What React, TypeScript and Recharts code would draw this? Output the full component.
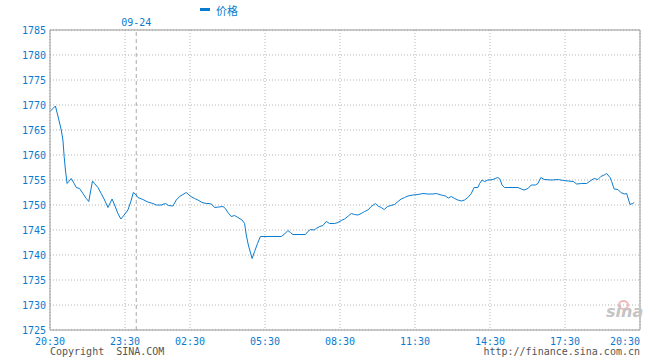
import React from "react";
import {
  LineChart,
  Line,
  XAxis,
  YAxis,
  CartesianGrid,
  ReferenceLine,
} from "recharts";

// time position in minutes from 20:30 (session gap squeezed out, like the source chart)
const xPos = [
  0, 13, 19, 27, 31, 34, 37, 41, 45, 51, 58, 63, 71, 79, 87, 93, 98, 102, 107,
  115, 123, 131, 139, 149, 155, 163, 170, 178, 187, 194, 200, 205, 211, 223,
  235, 247, 255, 267, 277, 285, 295, 303, 311, 319, 327, 338, 347, 355, 365,
  375, 383, 389, 395, 405, 415, 421, 427, 435, 443, 451, 461, 467, 471, 476,
  485, 491, 498, 505, 555, 563, 571, 577, 583, 613, 619, 625, 634, 639, 647,
  655, 663, 671, 683, 691, 699, 707, 716, 723, 731, 739, 747, 755, 763, 771,
  781, 787, 795, 802, 810, 818, 827, 835, 843, 851, 859, 871, 883, 895, 907,
  919, 927, 939, 949, 956, 963, 971, 979, 987, 995, 1003, 1011, 1018, 1027,
  1031, 1037, 1043, 1051, 1063, 1074, 1079, 1085, 1091, 1123, 1131, 1138,
  1147, 1155, 1165, 1171, 1178, 1186, 1204, 1220, 1232, 1244, 1256, 1264,
  1276, 1288, 1298, 1306, 1315, 1322, 1330, 1336, 1344, 1348, 1354, 1363,
  1370, 1378, 1384, 1392, 1398, 1402,
];

const prices = [
  1768.7, 1769.8, 1767.8, 1765, 1763, 1759.7, 1757, 1754.3, 1754.7, 1755.3,
  1754.3, 1753.5, 1753.3, 1752.3, 1751.3, 1750.7, 1753, 1754.8, 1754.3, 1753.5,
  1752.3, 1751, 1749.5, 1751.2, 1750, 1748.3, 1747.2, 1748, 1749, 1750.7,
  1752.5, 1752.2, 1751.5, 1751.1, 1750.6, 1750.3, 1750, 1750, 1750.3, 1749.9,
  1749.8, 1751, 1751.7, 1752.1, 1752.5, 1751.7, 1751.3, 1751, 1750.5, 1750.3,
  1750.3, 1750.1, 1749.5, 1749.6, 1749.7, 1749.3, 1748.5, 1747.7, 1747.9,
  1747.5, 1747, 1746.3, 1744, 1742, 1739.3, 1740.7, 1742.3, 1743.7, 1743.7,
  1744.2, 1744.9, 1744.5, 1744.1, 1744.1, 1744.7, 1745.1, 1745, 1745.3,
  1745.7, 1745.9, 1746.7, 1746.3, 1746.3, 1746.5, 1746.9, 1747.2, 1747.8,
  1748.3, 1748.1, 1748, 1748.3, 1748.7, 1749, 1749.7, 1750.3, 1749.8, 1749.5,
  1749.1, 1749.7, 1749.9, 1750.1, 1750.7, 1751.2, 1751.5, 1751.8, 1752,
  1752.1, 1752.3, 1752.2, 1752.2, 1752.3, 1752, 1751.8, 1751.4, 1751.7,
  1751.3, 1751, 1750.8, 1751, 1751.5, 1752.3, 1753.5, 1753.5, 1754.3, 1755,
  1754.7, 1755, 1755.1, 1755.5, 1755.3, 1754, 1753.5, 1753.5, 1753.2, 1753,
  1753.3, 1754, 1754, 1754.3, 1755.5, 1755.1, 1755, 1755.1, 1754.9, 1754.8,
  1754.7, 1754.2, 1754.3, 1754.3, 1754.9, 1755.3, 1755.1, 1755.7, 1756,
  1756.3, 1755.5, 1754.7, 1753.2, 1753.1, 1752.5, 1752.2, 1752.3, 1750.1,
  1750.3, 1750.5,
];

const xTicks = [0, 180, 336, 516, 696, 876, 1056, 1236, 1416];
const xTickLabels = [
  "20:30", "23:30", "02:30", "05:30", "08:30", "11:30", "14:30", "17:30", "20:30",
];
const yTicks = [1725, 1730, 1735, 1740, 1745, 1750, 1755, 1760, 1765, 1770, 1775, 1780, 1785];
const dayBreak = 207;
const dayLabel = "09-24";
const seriesName = "价格";

const BLUE = "#0a7ccf";
const MONO = "'DejaVu Sans Mono', 'Liberation Mono', monospace";

const data = xPos.map((t, i) => ({ t, price: prices[i] }));

// last label is pushed left so it stays inside the frame
const TimeTick = ({ x, y, payload, index }: any) => {
  const label = xTickLabels[xTicks.indexOf(payload.value)];
  const last = index === xTicks.length - 1;
  return (
    <text
      x={x}
      y={y + 14.5}
      textAnchor={last ? "end" : "middle"}
      fill={BLUE}
      fontSize={10}
      fontFamily={MONO}
    >
      {label}
    </text>
  );
};

export default function App() {
  return (
    <div
      style={{
        position: "absolute",
        left: 0,
        top: 0,
        width: 660,
        height: 360,
        background: "#fff",
      }}
    >
      <LineChart
        width={660}
        height={360}
        data={data}
        margin={{ top: 30, right: 20, bottom: 0, left: 0 }}
      >
        <CartesianGrid stroke="#b4b4b4" strokeDasharray="1 2" />
        <XAxis
          type="number"
          dataKey="t"
          domain={[0, 1416]}
          ticks={xTicks}
          interval={0}
          height={30}
          tickLine={false}
          tickSize={0}
          tickMargin={0}
          axisLine={{ stroke: "#999" }}
          tick={<TimeTick />}
        />
        <YAxis
          domain={[1725, 1785]}
          ticks={yTicks}
          interval={0}
          width={50}
          tickLine={false}
          tickSize={0}
          tickMargin={4}
          axisLine={{ stroke: "#999" }}
          tick={{ fill: BLUE, fontSize: 10, fontFamily: MONO }}
        />
        <ReferenceLine y={1785} stroke="#999" />
        <ReferenceLine x={1416} stroke="#999" />
        <ReferenceLine
          x={dayBreak}
          stroke="#aaa"
          strokeDasharray="4 3"
          label={{
            value: dayLabel,
            position: "top",
            offset: 4,
            fill: BLUE,
            fontSize: 10,
            fontFamily: MONO,
          }}
        />
        <Line
          type="linear"
          dataKey="price"
          name={seriesName}
          stroke={BLUE}
          strokeWidth={1}
          dot={false}
          isAnimationActive={false}
        />
      </LineChart>

      {/* legend */}
      <div
        style={{
          position: "absolute",
          left: 200,
          top: 8,
          width: 10,
          height: 3,
          background: BLUE,
        }}
      />
      <div
        style={{
          position: "absolute",
          left: 216,
          top: 3,
          fontSize: 11,
          lineHeight: "14px",
          color: BLUE,
          fontFamily: "'Noto Sans CJK SC', sans-serif",
        }}
      >
        {seriesName}
      </div>

      {/* sina watermark */}
      <div
        style={{
          position: "absolute",
          left: 618,
          top: 300,
          width: 7,
          height: 6,
          borderRadius: "50%",
          border: "2px solid #f4b8b8",
        }}
      />
      <div
        style={{
          position: "absolute",
          left: 606,
          top: 303,
          fontSize: 16,
          lineHeight: "18px",
          fontWeight: "bold",
          fontStyle: "italic",
          color: "#c4c4c4",
          fontFamily: "'DejaVu Sans', sans-serif",
        }}
      >
        sina
      </div>

      {/* footer */}
      <div
        style={{
          position: "absolute",
          left: 50,
          top: 346,
          fontSize: 10,
          lineHeight: "12px",
          color: "#555",
          fontFamily: MONO,
          whiteSpace: "pre",
        }}
      >
        {"Copyright  SINA.COM"}
      </div>
      <div
        style={{
          position: "absolute",
          right: 20,
          top: 346,
          fontSize: 10,
          lineHeight: "12px",
          color: "#555",
          fontFamily: MONO,
        }}
      >
        http://finance.sina.com.cn
      </div>
    </div>
  );
}
